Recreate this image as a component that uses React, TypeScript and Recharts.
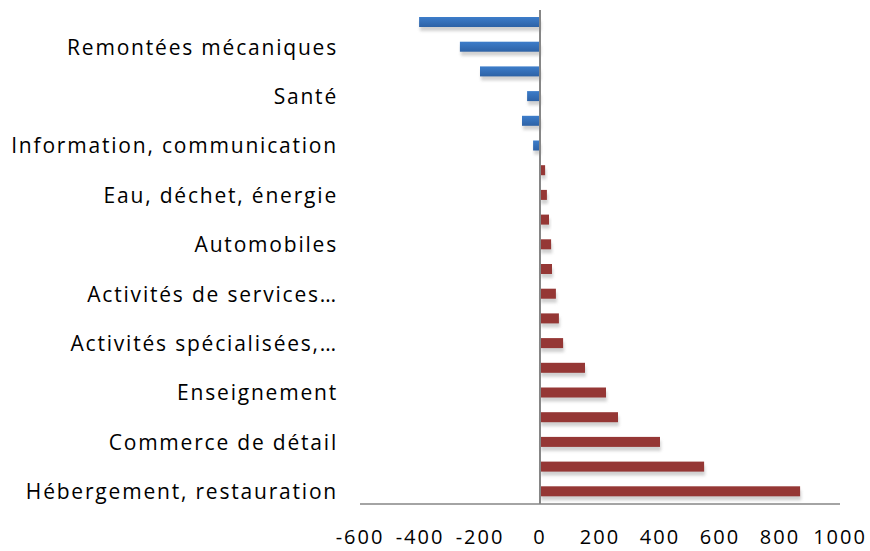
import { BarChart, Bar, XAxis, YAxis, Cell, ReferenceLine } from 'recharts';

// categories top to bottom; only every other one carries a visible label
const categoryLabels = [
    '', 'Remontées mécaniques',
    '', 'Santé',
    '', 'Information, communication',
    '', 'Eau, déchet, énergie',
    '', 'Automobiles',
    '', 'Activités de services…',
    '', 'Activités spécialisées,…',
    '', 'Enseignement',
    '', 'Commerce de détail',
    '', 'Hébergement, restauration',
];

const values = [
    -403, -267, -200, -43, -60, -23,
    17, 23, 30, 37, 40, 53, 63, 77,
    150, 220, 260, 400, 547, 867,
];

const xTicks = [-600, -400, -200, 0, 200, 400, 600, 800, 1000];

const data = values.map((v, i) => ({ key: 'c' + i, label: categoryLabels[i], value: v }));

const FONT = '"Open Sans", sans-serif';

const ShadowBar = (props: any) => {
    const { x, y, width, height, fill } = props;
    const x0 = Math.min(x, x + width);
    const w = Math.abs(width);
    return (
        <g>
            <rect x={x0 + 1} y={y + 4} width={w} height={height} fill="#bdbdbd" opacity={0.7} filter="url(#barShadow)" />
            <rect x={x0} y={y} width={w} height={height} fill={fill} />
        </g>
    );
};

const App = () => {
    return (
        <div style={{ position: 'absolute', left: 0, top: 0 }}>
            <BarChart
                width={870}
                height={551}
                data={data}
                layout="vertical"
                margin={{ top: 10, right: 30, bottom: 0, left: 0 }}
                barSize={10}
            >
                <defs>
                    <linearGradient id="blueGrad" x1="0" y1="0" x2="0" y2="1">
                        <stop offset="0%" stopColor="#3D7DCA" />
                        <stop offset="100%" stopColor="#2D62A6" />
                    </linearGradient>
                    <filter id="barShadow" x="-20%" y="-50%" width="140%" height="200%">
                        <feGaussianBlur stdDeviation="1.5" />
                    </filter>
                </defs>
                <XAxis
                    type="number"
                    domain={[-600, 1000]}
                    ticks={xTicks}
                    interval={0}
                    tickLine={false}
                    tickSize={0}
                    tickMargin={26}
                    height={47}
                    axisLine={{ stroke: '#868686', strokeWidth: 1.5 }}
                    tick={{ fill: '#000', fontSize: 20, fontFamily: FONT, letterSpacing: 2 }}
                />
                <YAxis
                    type="category"
                    dataKey="key"
                    width={360}
                    interval={0}
                    axisLine={false}
                    tickLine={false}
                    tickSize={0}
                    tickMargin={22}
                    tickFormatter={(v: string, i: number) => categoryLabels[i]}
                    tick={{ fill: '#000', fontSize: 21, fontFamily: FONT, letterSpacing: 1.8 }}
                />
                <ReferenceLine x={0} stroke="#868686" strokeWidth={2} />
                <Bar dataKey="value" isAnimationActive={false} shape={ShadowBar}>
                    {data.map((d) => (
                        <Cell key={d.key} fill={d.value < 0 ? 'url(#blueGrad)' : '#953735'} />
                    ))}
                </Bar>
            </BarChart>
        </div>
    );
};

export default App;
